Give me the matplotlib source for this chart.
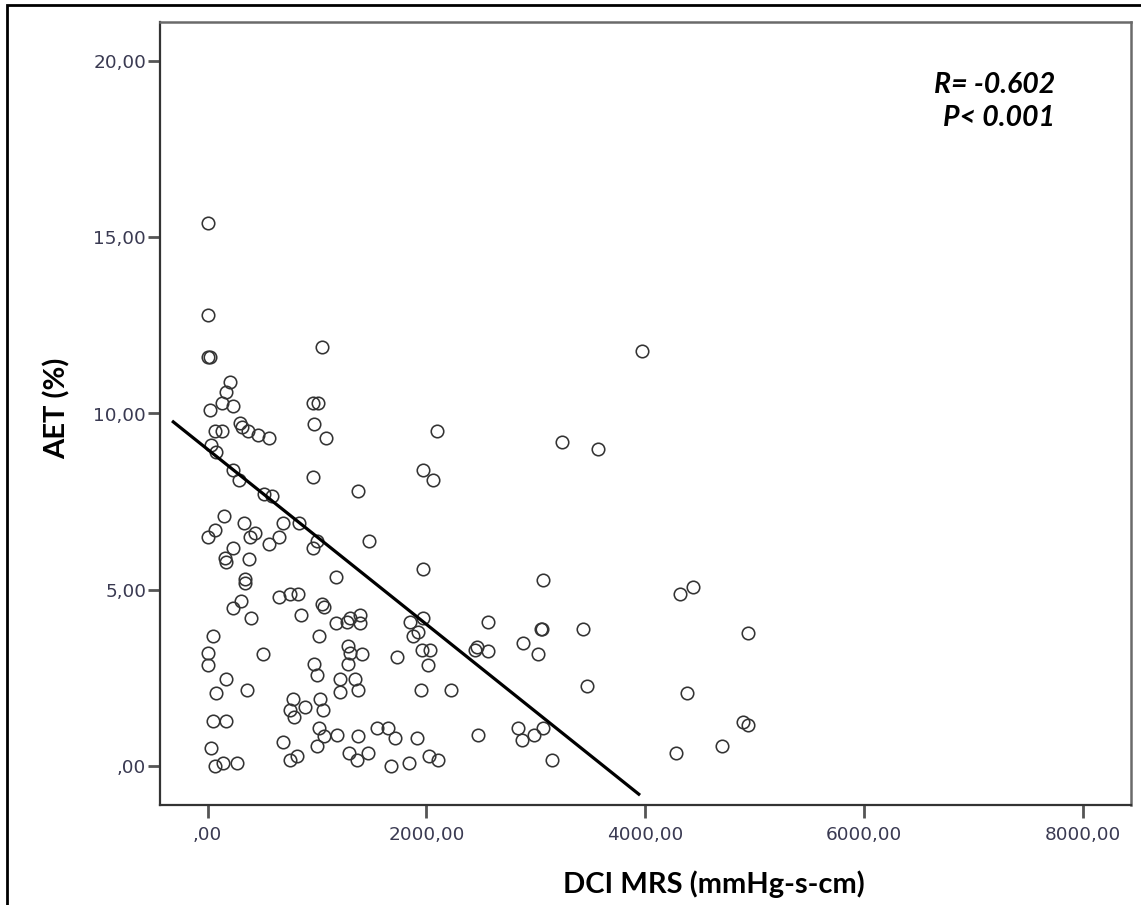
import matplotlib
matplotlib.use("Agg")
import matplotlib.pyplot as plt
import numpy as np
from matplotlib.patches import Rectangle

# ---- data ----
dci = [0, 0, 0, 20, 1045, 204, 169, 128, 228, 21,
       965, 1011, 969, 1081, 2100, 1965, 2056, 965, 1374, 27,
       76, 67, 128, 297, 316, 371, 463, 563, 228, 289,
       515, 588, 149, 332, 70, 6, 432, 387, 685, 837,
       655, 563, 996, 960, 1477, 234, 158, 165, 380, 1971,
       341, 341, 1170, 655, 752, 828, 1042, 1063, 304, 234,
       393, 853, 1173, 1270, 1301, 1392, 1392, 1849, 1965, 1879,
       1925, 51, 1020, 6, 6, 508, 1285, 1301, 1408, 1285,
       975, 996, 1733, 1956, 2032, 2016, 167, 76, 362, 1209,
       1346, 1209, 1377, 1947, 2221, 777, 752, 889, 789, 1026,
       1057, 51, 167, 27, 67, 137, 271, 691, 752, 819,
       1020, 1063, 1185, 1002, 1371, 1550, 1651, 1712, 1916, 1294,
       1368, 1468, 1675, 1843, 2026, 2108, 3973, 3236, 3570, 3068,
       4317, 4439, 2559, 3047, 3052, 3428, 2443, 2459, 2559, 2878,
       3016, 3470, 4378, 4890, 4941, 2473, 2839, 2870, 2985, 3062,
       3144, 4281, 4704, 4936]
aet = [15.4, 12.8, 11.6, 11.6, 11.9, 10.9, 10.6, 10.3, 10.2, 10.1,
       10.3, 10.3, 9.7, 9.3, 9.5, 8.4, 8.1, 8.2, 7.8, 9.1,
       8.9, 9.5, 9.5, 9.74, 9.62, 9.5, 9.39, 9.3, 8.4, 8.1,
       7.7, 7.65, 7.09, 6.88, 6.69, 6.48, 6.6, 6.48, 6.9, 6.88,
       6.48, 6.28, 6.39, 6.17, 6.38, 6.17, 5.89, 5.79, 5.87, 5.57,
       5.29, 5.18, 5.36, 4.78, 4.86, 4.86, 4.59, 4.49, 4.68, 4.47,
       4.18, 4.28, 4.06, 4.09, 4.18, 4.28, 4.06, 4.09, 4.18, 3.68,
       3.8, 3.68, 3.68, 3.19, 2.86, 3.17, 3.40, 3.19, 3.17, 2.88,
       2.88, 2.57, 3.07, 3.28, 3.28, 2.87, 2.46, 2.07, 2.16, 2.46,
       2.46, 2.08, 2.16, 2.16, 2.16, 1.88, 1.58, 1.67, 1.37, 1.88,
       1.58, 1.27, 1.27, 0.49, 0.0, 0.06, 0.06, 0.66, 0.16, 0.27,
       1.06, 0.85, 0.87, 0.55, 0.85, 1.06, 1.06, 0.77, 0.77, 0.36,
       0.16, 0.36, 0.0, 0.06, 0.27, 0.16, 11.78, 9.18, 8.98, 5.27,
       4.87, 5.08, 4.07, 3.87, 3.87, 3.87, 3.28, 3.38, 3.26, 3.47,
       3.17, 2.26, 2.07, 1.24, 1.15, 0.87, 1.07, 0.74, 0.87, 1.07,
       0.16, 0.36, 0.56, 3.77]

fit_intercept = 8.98
fit_slope = -0.002485
fit_range = [-326, 3952]

x_ticks = [0, 2000, 4000, 6000, 8000]
x_ticklabels = [",00", "2000,00", "4000,00", "6000,00", "8000,00"]
y_ticks = [0, 5, 10, 15, 20]
y_ticklabels = [",00", "5,00", "10,00", "15,00", "20,00"]

x_label = "DCI MRS (mmHg-s-cm)"
y_label = "AET (%)"
stats_lines = ["R= -0.602", "P< 0.001"]

# ---- figure ----
W, H = 1141, 905
fig = plt.figure(figsize=(W / 100, H / 100), dpi=100)
fig.patch.set_facecolor("white")

ax = fig.add_axes([160 / W, 1 - 805 / H, (1131 - 160) / W, (805 - 22) / H])
ax.set_xlim(-436, 8440)
ax.set_ylim(-1.12, 21.12)

ax.plot(dci, aet, linestyle="none", marker="o", markersize=9,
        markerfacecolor="none", markeredgecolor="#333333", markeredgewidth=1.15)

fx = np.array(fit_range, dtype=float)
ax.plot(fx, fit_intercept + fit_slope * fx, color="black", linewidth=2.3,
        solid_capstyle="butt")

ax.set_xticks(x_ticks)
ax.set_xticklabels(x_ticklabels)
ax.set_yticks(y_ticks)
ax.set_yticklabels(y_ticklabels)
tick_color = "#3a3a52"
ax.tick_params(axis="both", direction="out", length=9, width=2, color="#555555",
               labelsize=13.3, labelcolor=tick_color)
ax.tick_params(axis="y", pad=1)
ax.tick_params(axis="x", pad=6)
for lab in ax.get_xticklabels() + ax.get_yticklabels():
    lab.set_family("DejaVu Sans")

for side in ["left", "bottom"]:
    ax.spines[side].set_color("#333333")
    ax.spines[side].set_linewidth(1.6)
for side in ["top", "right"]:
    ax.spines[side].set_color("#6a6a6a")
    ax.spines[side].set_linewidth(1.8)

# axis labels
fig.text(57 / W, 1 - 408 / H, y_label, rotation=90, ha="center", va="center",
         fontsize=21, fontweight="bold", family=["Lato", "DejaVu Sans"], color="black")
fig.text(714 / W, 1 - 884 / H, x_label, ha="center", va="center",
         fontsize=21, fontweight="bold", family=["Lato", "DejaVu Sans"], color="black")

# stats annotation
for i, s in enumerate(stats_lines):
    fig.text(1055 / W, 1 - (85 + 33 * i) / H, s, ha="right", va="center",
             fontsize=20.5, fontweight="bold", fontstyle="italic",
             family=["Lato", "DejaVu Sans"], color="black")

# outer frame
fig.patches.append(Rectangle((7 / W, -0.2), 1.5, 1 - 5 / H + 0.2,
                             transform=fig.transFigure, fill=False,
                             edgecolor="black", linewidth=2, clip_on=False))

fig.savefig("out.png", dpi=100)
